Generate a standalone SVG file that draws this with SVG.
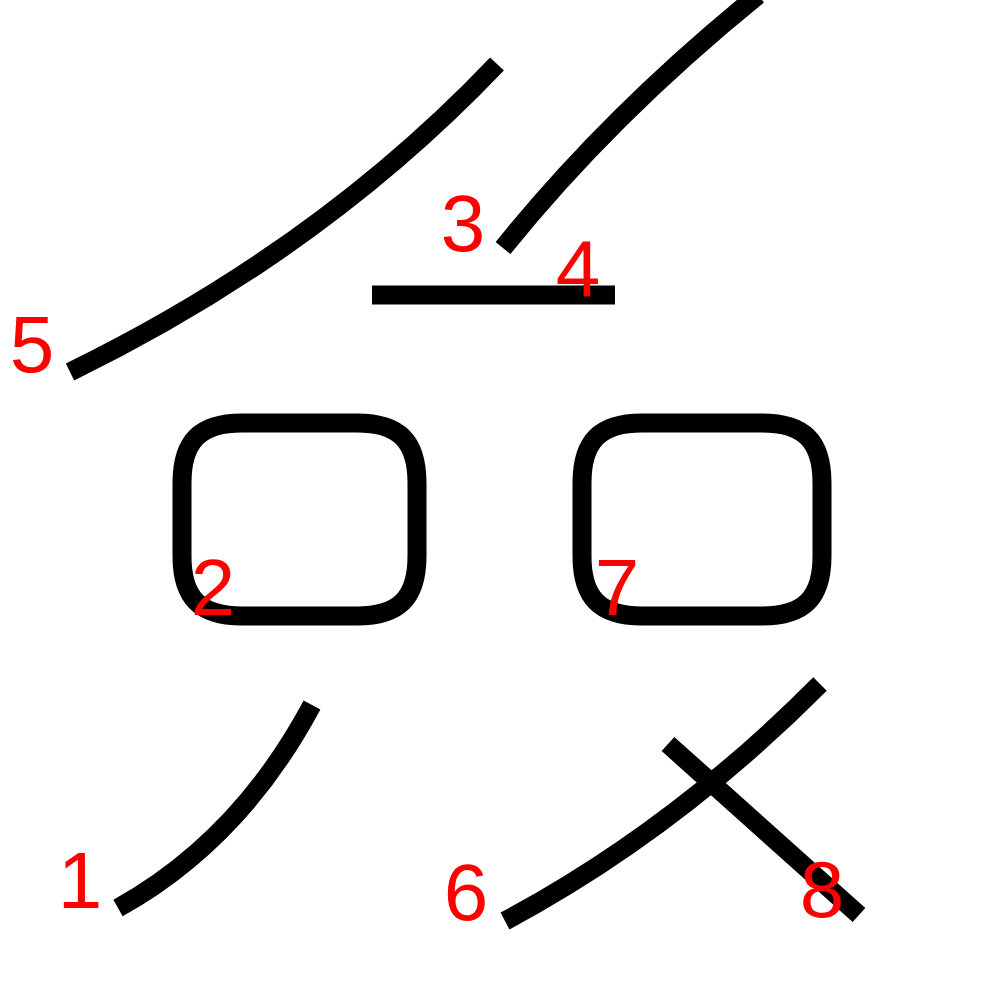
<svg xmlns="http://www.w3.org/2000/svg" width="1000" height="1000" viewBox="0 0 1000 1000">
<style>
.s{fill:none;stroke:#000;stroke-width:19}
.n{fill:#f00;font-family:"Liberation Sans",Arial,sans-serif;font-size:80px;text-anchor:middle}
</style>
<rect width="1000" height="1000" fill="#fff"/>
<g id="strokes">
<path id="s1" class="s" d="M312,705 Q240,840 118,908"/>
<path id="s2" class="s" d="M182,483 C182,441 200,423 242,423 H357 C399,423 417,441 417,483 V556 C417,598 399,616 357,616 H242 C200,616 182,598 182,556 Z"/>
<path id="s3" class="s" d="M758,-5 Q610,115 503,248"/>
<path id="s4" class="s" d="M372,295 H615"/>
<path id="s5" class="s" d="M497,64 Q320,250 70,372"/>
<path id="s6" class="s" d="M820,684 Q675,830 505,921"/>
<path id="s7" class="s" d="M582,483 C582,441 600,423 642,423 H762 C804,423 822,441 822,483 V556 C822,598 804,616 762,616 H642 C600,616 582,598 582,556 Z"/>
<path id="s8" class="s" d="M668,744 L859,915"/>
</g>
<g id="labels">
<text class="n" x="80" y="908">1</text>
<text class="n" x="213" y="615">2</text>
<text class="n" x="463" y="251">3</text>
<text class="n" x="578" y="296">4</text>
<text class="n" x="32" y="372">5</text>
<text class="n" x="466" y="920">6</text>
<text class="n" x="617" y="615">7</text>
<text class="n" x="822" y="917">8</text>
</g>
</svg>
